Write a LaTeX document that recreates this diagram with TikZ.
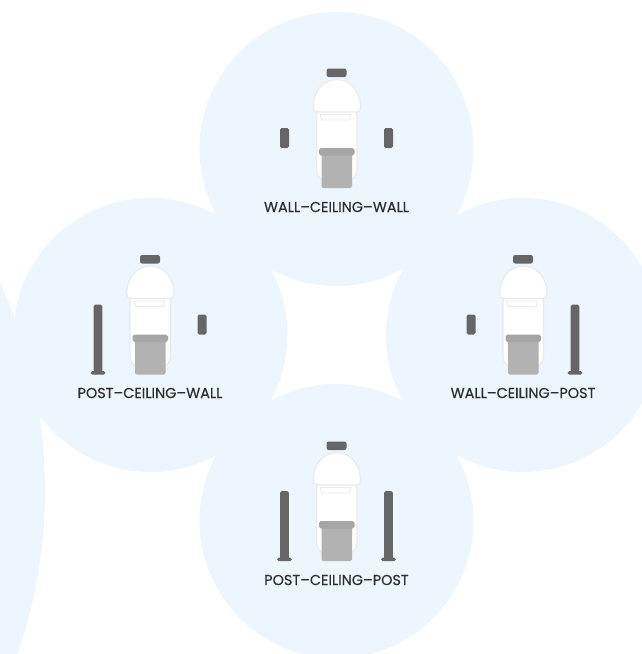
\documentclass[tikz,border=0pt]{standalone}
\usepackage{fontspec}
\setmainfont{Poppins}
\newfontfamily\capfont[FakeBold=0.3]{Poppins}
\definecolor{zone}{HTML}{EDF6FD}
\definecolor{edgegrey}{HTML}{EBEBEB}
\definecolor{bin}{HTML}{B2B2B2}
\definecolor{lid}{HTML}{A6A6A6}
\definecolor{wallgrey}{HTML}{666666}
\definecolor{labelink}{HTML}{2E2E2E}
\tikzset{
  x=1pt,y=-1pt,
  zonedisc/.style={fill=zone,draw=none},
  shell/.style={fill=white,draw=edgegrey,line width=1.2pt},
  darkpart/.style={fill=wallgrey,draw=none,rounded corners=1.6pt},
  lidpart/.style={fill=lid,draw=none,rounded corners=1.8pt},
  binpart/.style={fill=bin,draw=none,rounded corners=2pt},
  caption/.style={text=labelink,font=\capfont\fontsize{14.4}{16}\selectfont,inner sep=0pt,anchor=center},
  pics/robot/.style={code={
    \fill[wallgrey,rounded corners=2.2pt] (-10,68.5) rectangle (10,77);
    \draw[shell,rounded corners=11pt] (-20,105) -- (-20,181) -- (20.5,181) -- (20.5,105) -- cycle;
    \draw[shell] (-23.2,107) .. controls (-23.2,90) and (-12,79.5) .. (0.2,79.5)
       .. controls (12.5,79.5) and (24,90) .. (24,107)
       .. controls (24,110.5) and (22,112) .. (19,112) -- (-18.5,112)
       .. controls (-21.5,112) and (-23.2,110.5) .. (-23.2,107) -- cycle;
    \draw[edgegrey,line width=0.9pt,fill=white] (-16.5,114.5) -- (14.5,114.5) -- (13,120) -- (-14.5,120) -- cycle;
    \path[binpart] (-15,153) rectangle (15.5,188);
    \path[lidpart] (-17.5,148) rectangle (18,155.5);
  }},
  pics/shortwall/.style={code={
    \path[darkpart] (-4.5,128) rectangle (4.5,148);
  }},
  pics/tallpost/.style={code={
    \path[darkpart] (-4.3,118) rectangle (4.3,187);
    \fill[wallgrey,rounded corners=1.8pt] (-7.5,184.6) rectangle (7.5,188.2);
  }},
}
\begin{document}
\begin{tikzpicture}
\useasboundingbox (0,0) rectangle (642,654);
\begin{scope}
\clip (0,0) rectangle (642,654);
\fill[zonedisc] (-455,490) circle[radius=500];
\fill[zonedisc] (336.5,149) circle[radius=137];
\fill[zonedisc] (150.5,335) circle[radius=137];
\fill[zonedisc] (523,335) circle[radius=137];
\fill[zonedisc] (336.5,521) circle[radius=137];
\end{scope}
% top
\begin{scope}[shift={(336.5,0)}]
\pic {robot}; \pic at (-52,0) {shortwall}; \pic at (52,0) {shortwall};
\end{scope}
\node[caption] (wcw) at (336.5,207) {WALL–CEILING–WALL};
% left
\begin{scope}[shift={(150,186.5)}]
\pic {robot}; \pic at (-52,0) {tallpost}; \pic at (52,0) {shortwall};
\end{scope}
\node[caption] (pcw) at (150,393) {POST–CEILING–WALL};
% right
\begin{scope}[shift={(523,186.5)}]
\pic {robot}; \pic at (-52,0) {shortwall}; \pic at (52,0) {tallpost};
\end{scope}
\node[caption] (wcp) at (523,393) {WALL–CEILING–POST};
% bottom
\begin{scope}[shift={(336.5,373)}]
\pic {robot}; \pic at (-52,0) {tallpost}; \pic at (52,0) {tallpost};
\end{scope}
\node[caption] (pcp) at (336.5,580) {POST–CEILING–POST};
\end{tikzpicture}
\end{document}
